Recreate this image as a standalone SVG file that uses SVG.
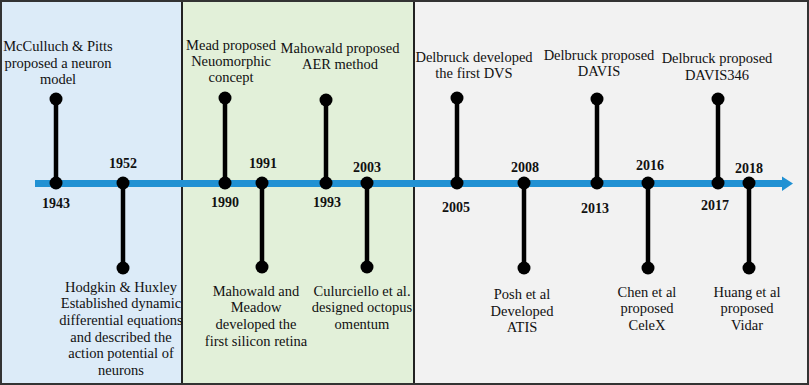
<svg xmlns="http://www.w3.org/2000/svg" width="809" height="385" viewBox="0 0 809 385">
<style>
text{font-family:Liberation Serif,Tinos,Times New Roman,Times,DejaVu Serif,Noto Serif,serif;text-anchor:middle;fill:#111}
.t{font-size:14.5px}
.y{font-size:14px;font-weight:bold}
.stem{stroke:#000;stroke-width:4.5}
.dot{fill:#000}
</style>
<defs>
<circle id="d" r="6.5" class="dot"/>
</defs>
<g id="panels">
<rect x="0" y="0" width="182" height="385" fill="#dcebf8"/>
<rect x="182" y="0" width="232" height="385" fill="#e2f0d9"/>
<rect x="414" y="0" width="395" height="385" fill="#f2f2f2"/>
<line x1="182" y1="0" x2="182" y2="385" stroke="#222" stroke-width="2"/>
<line x1="414" y1="0" x2="414" y2="385" stroke="#222" stroke-width="2"/>
<rect x="1" y="1" width="807" height="383" fill="none" stroke="#333" stroke-width="2"/>
</g>
<g id="connectors">
<rect x="35" y="180" width="748" height="7" fill="#2191d3"/>
<polygon points="782,176.5 793,183.5 782,191" fill="#2191d3"/>
<line class="stem" x1="56" y1="99" x2="56" y2="183"/>
<line class="stem" x1="123" y1="183" x2="123" y2="268"/>
<line class="stem" x1="225" y1="98" x2="225" y2="183"/>
<line class="stem" x1="262" y1="183" x2="262" y2="267"/>
<line class="stem" x1="326" y1="100" x2="326" y2="183"/>
<line class="stem" x1="367" y1="183" x2="367" y2="267"/>
<line class="stem" x1="457" y1="98" x2="457" y2="183"/>
<line class="stem" x1="524" y1="183" x2="524" y2="268"/>
<line class="stem" x1="597" y1="99" x2="597" y2="183"/>
<line class="stem" x1="648" y1="183" x2="648" y2="268"/>
<line class="stem" x1="718" y1="99" x2="718" y2="183"/>
<line class="stem" x1="749" y1="183" x2="749" y2="268"/>
</g>
<g id="n1943">
<use href="#d" x="56" y="99"/><use href="#d" x="56" y="183"/>
<text class="y" x="56" y="208">1943</text>
<text class="t" x="58" y="51">McCulluch &amp; Pitts</text>
<text class="t" x="58" y="68">proposed a neuron</text>
<text class="t" x="58" y="84">model</text>
</g>
<g id="n1952">
<use href="#d" x="123" y="183"/><use href="#d" x="123" y="268"/>
<text class="y" x="123" y="168">1952</text>
<text class="t" x="121" y="292">Hodgkin &amp; Huxley</text>
<text class="t" x="121" y="308">Established dynamic</text>
<text class="t" x="121" y="325">differential equations</text>
<text class="t" x="121" y="342">and described the</text>
<text class="t" x="121" y="358">action potential of</text>
<text class="t" x="121" y="375">neurons</text>
</g>
<g id="n1990">
<use href="#d" x="225" y="98"/><use href="#d" x="225" y="183"/>
<text class="y" x="225" y="207">1990</text>
<text class="t" x="231" y="50">Mead proposed</text>
<text class="t" x="231" y="66">Neuomorphic</text>
<text class="t" x="231" y="82">concept</text>
</g>
<g id="n1991">
<use href="#d" x="262" y="183"/><use href="#d" x="262" y="267"/>
<text class="y" x="263" y="168">1991</text>
<text class="t" x="256" y="296">Mahowald and</text>
<text class="t" x="256" y="312">Meadow</text>
<text class="t" x="256" y="329">developed the</text>
<text class="t" x="256" y="346">first silicon retina</text>
</g>
<g id="n1993">
<use href="#d" x="326" y="100"/><use href="#d" x="326" y="183"/>
<text class="y" x="327" y="207">1993</text>
<text class="t" x="340" y="53">Mahowald proposed</text>
<text class="t" x="340" y="69">AER method</text>
</g>
<g id="n2003">
<use href="#d" x="367" y="183"/><use href="#d" x="367" y="267"/>
<text class="y" x="367" y="172">2003</text>
<text class="t" x="362" y="296">Culurciello et al.</text>
<text class="t" x="362" y="312">designed octopus</text>
<text class="t" x="362" y="329">omentum</text>
</g>
<g id="n2005">
<use href="#d" x="457" y="98"/><use href="#d" x="457" y="183"/>
<text class="y" x="456" y="212">2005</text>
<text class="t" x="474" y="62">Delbruck developed</text>
<text class="t" x="474" y="78">the first DVS</text>
</g>
<g id="n2008">
<use href="#d" x="524" y="183"/><use href="#d" x="524" y="268"/>
<text class="y" x="525" y="172">2008</text>
<text class="t" x="522" y="299">Posh et al</text>
<text class="t" x="522" y="316">Developed</text>
<text class="t" x="522" y="332">ATIS</text>
</g>
<g id="n2013">
<use href="#d" x="597" y="99"/><use href="#d" x="597" y="183"/>
<text class="y" x="595" y="213">2013</text>
<text class="t" x="599" y="60">Delbruck proposed</text>
<text class="t" x="599" y="76">DAVIS</text>
</g>
<g id="n2016">
<use href="#d" x="648" y="183"/><use href="#d" x="648" y="268"/>
<text class="y" x="650" y="170">2016</text>
<text class="t" x="647" y="297">Chen et al</text>
<text class="t" x="647" y="313">proposed</text>
<text class="t" x="647" y="330">CeleX</text>
</g>
<g id="n2017">
<use href="#d" x="718" y="99"/><use href="#d" x="718" y="183"/>
<text class="y" x="715" y="210">2017</text>
<text class="t" x="717" y="63">Delbruck proposed</text>
<text class="t" x="717" y="80">DAVIS346</text>
</g>
<g id="n2018">
<use href="#d" x="749" y="183"/><use href="#d" x="749" y="268"/>
<text class="y" x="749" y="173">2018</text>
<text class="t" x="747" y="297">Huang et al</text>
<text class="t" x="747" y="313">proposed</text>
<text class="t" x="747" y="330">Vidar</text>
</g>
</svg>
